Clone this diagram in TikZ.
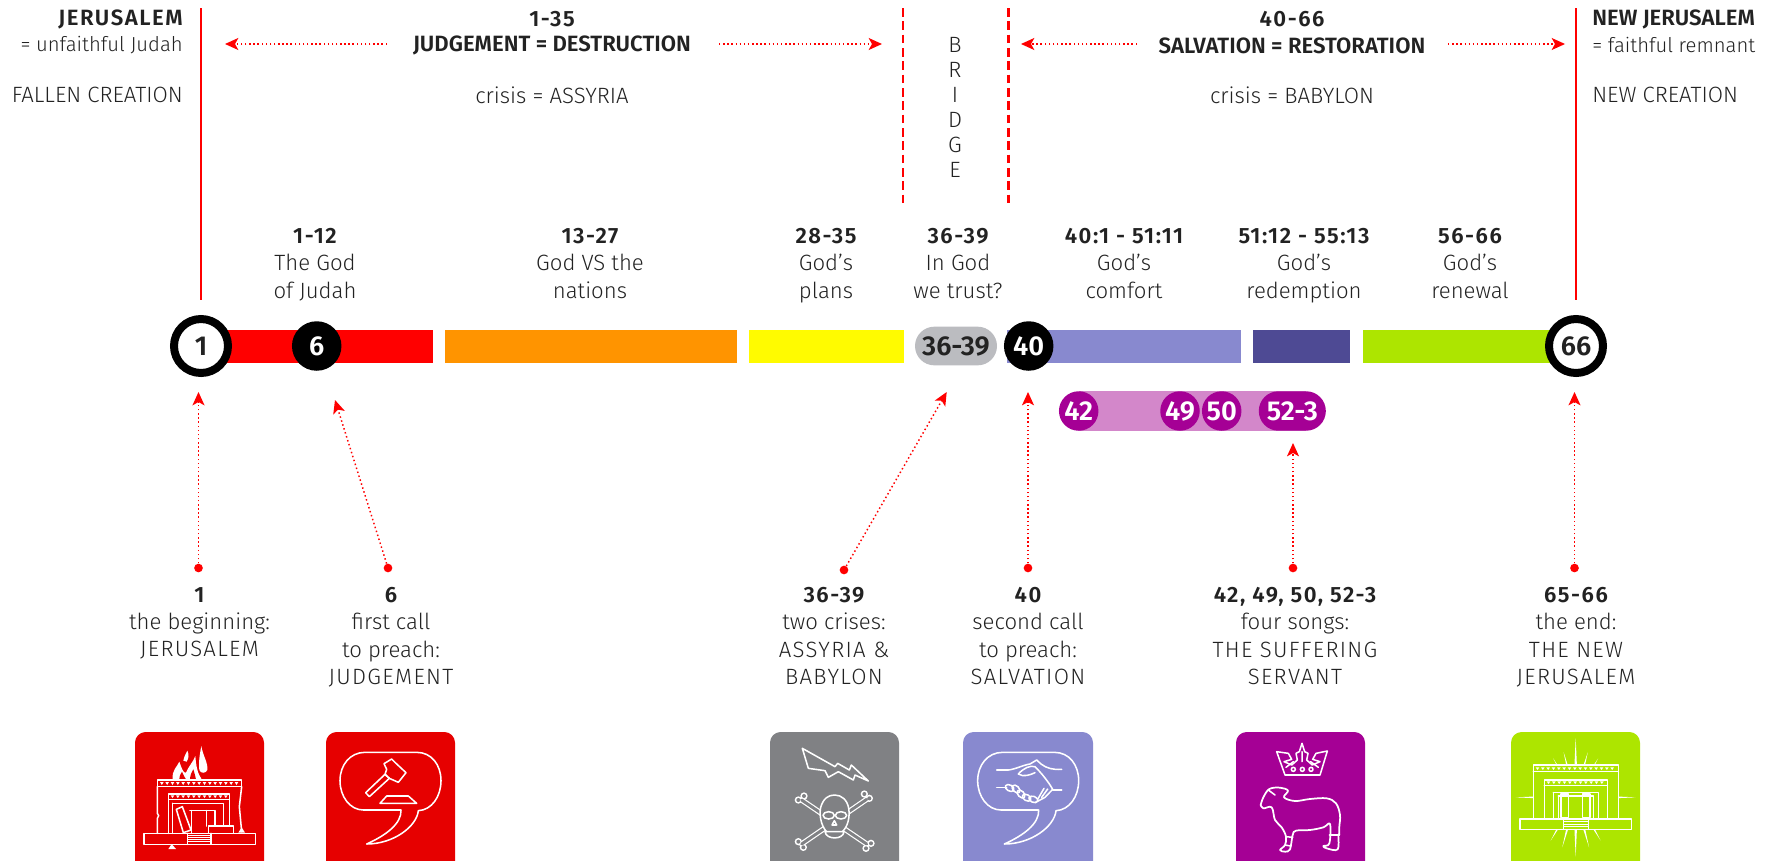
\documentclass[tikz,border=0pt]{standalone}
\usepackage{fontspec}
\setmainfont[BoldFont={Fira Sans SemiBold}]{Fira Sans Light}
\usetikzlibrary{arrows.meta}
\definecolor{txt}{HTML}{222222}
\definecolor{rd}{HTML}{FF0000}
\definecolor{icred}{HTML}{E60000}
\definecolor{org}{HTML}{FF9400}
\definecolor{yel}{HTML}{FFFB00}
\definecolor{peri}{HTML}{8889CF}
\definecolor{dkperi}{HTML}{4E4A94}
\definecolor{lime}{HTML}{ADE500}
\definecolor{purp}{HTML}{A50095}
\definecolor{pink}{HTML}{D387CA}
\definecolor{gry}{HTML}{BBBCC0}
\definecolor{icgry}{HTML}{808184}
\newcommand{\hd}[1]{{\bfseries\addfontfeature{LetterSpace=7}#1}}
\newcommand{\cp}[1]{{\addfontfeature{LetterSpace=6}#1}}
\tikzset{
  lbl/.style={inner sep=0pt,text=txt,font=\fontsize{16.6}{20.5}\selectfont,align=center},
  lblr/.style={lbl,align=right,anchor=east},
  lbll/.style={lbl,align=left,anchor=west},
  num/.style={inner sep=0pt,font=\fontsize{20.5}{22}\selectfont\bfseries,text=white},
  blackdisc/.style={circle,fill=black,minimum size=49.5pt*0.75,num},
  purpdisc/.style={circle,fill=purp,minimum size=39.5pt*0.75,num},
  ring/.style={circle,draw=black,line width=6pt,fill=white,minimum size=54pt*0.75,num,text=txt},
  dotnode/.style={circle,fill=rd,inner sep=0pt,minimum size=6.5pt},
  vrule/.style={draw=rd,line width=1.6pt},
  darrow/.style={draw=rd,line width=1.1pt,dash pattern=on 1.1pt off 2pt,-{Stealth[length=10pt,width=9pt,inset=2.5pt,rd,sep=0pt]}},
  bar/.style={draw=none},
  tile/.style={rounded corners=8pt,draw=none},
  iconline/.style={draw=white,line width=1.15pt,line join=round,line cap=round},
  izoom/.style={x=0.25pt,y=-0.25pt},
}
\newcommand{\bubbleshape}[1]{%
  \draw[iconline,shift={(#1,0)}] (795,97) -- (950,97) .. controls (995,97) and (1023,135) .. (1023,182)
    .. controls (1023,230) and (995,270) .. (955,272) .. controls (950,320) and (880,372) .. (800,372)
    .. controls (860,345) and (905,310) .. (903,270) -- (790,270) .. controls (750,270) and (720,230) .. (720,182)
    .. controls (720,135) and (750,97) .. (795,97) -- cycle;}
\begin{document}
\begin{tikzpicture}[x=0.75pt,y=-0.75pt]
\useasboundingbox (0,0) rectangle (1777,860);
\clip (0,0) rectangle (1777,860);
% vertical rules
\coordinate (ltop) at (201,8); \coordinate (lbot) at (201,300);
\coordinate (rtop) at (1576,8); \coordinate (rbot) at (1576,300);
\coordinate (btl) at (903,8); \coordinate (bbl) at (903,203);
\coordinate (btr) at (1008.5,8); \coordinate (bbr) at (1008.5,203);
\draw[vrule] (ltop) -- (lbot);
\draw[vrule] (rtop) -- (rbot);
\draw[vrule,dash pattern=on 6.5pt off 3.5pt] (btl) -- (bbl);
\draw[vrule,dash pattern=on 6.5pt off 3.5pt] (btr) -- (bbr);
% top texts
\node[lblr] (tj1) at (183,19) {\hd{JERUSALEM}};
\node[lblr,font=\fontsize{15.2}{20}\selectfont] (tj2) at (183,45) {= unfaithful Judah};
\node[lblr] (tj3) at (183,95) {FALLEN CREATION};
\node[lbl] (t135) at (552,19) {\hd{1-35}};
\node[lbl] (tjd) at (552,45.5) {\textbf{JUDGEMENT = DESTRUCTION}};
\node[lbl] (tas) at (552,95) {crisis = ASSYRIA};
\node[lbl] (t4066) at (1292,19) {\hd{40-66}};
\node[lbl] (tsr) at (1292,45.5) {\textbf{SALVATION = RESTORATION}};
\node[lbl] (tba) at (1292,95) {crisis = BABYLON};
\node[lbll] (tn1) at (1592,19) {\textbf{NEW JERUSALEM}};
\node[lbll,font=\fontsize{15.2}{20}\selectfont] (tn2) at (1592,45) {= faithful remnant};
\node[lbll] (tn3) at (1592,95) {NEW CREATION};
\node[lbl] (b1) at (955,45) {B};
\node[lbl] (b2) at (955,70) {R};
\node[lbl] (b3) at (955,95) {I};
\node[lbl] (b4) at (955,120) {D};
\node[lbl] (b5) at (955,145) {G};
\node[lbl] (b6) at (955,170) {E};
% top arrows
\coordinate (a1s) at (387,44); \coordinate (a1e) at (225,44);
\coordinate (a2s) at (719,44); \coordinate (a2e) at (882,44);
\coordinate (a3s) at (1137,44); \coordinate (a3e) at (1021,44);
\coordinate (a4s) at (1448,44); \coordinate (a4e) at (1565,44);
\draw[darrow] (a1s) -- (a1e);
\draw[darrow] (a2s) -- (a2e);
\draw[darrow] (a3s) -- (a3e);
\draw[darrow] (a4s) -- (a4e);
% column labels
\node[lbl,anchor=north] (c1) at (315,228) {\hd{1-12}\\The God\\of Judah};
\node[lbl,anchor=north] (c2) at (590,228) {\hd{13-27}\\God VS the\\nations};
\node[lbl,anchor=north] (c3) at (826,228) {\hd{28-35}\\God's\\plans};
\node[lbl,anchor=north] (c4) at (958,228) {\hd{36-39}\\In God\\we trust?};
\node[lbl,anchor=north] (c5) at (1124,228) {\hd{40:1 - 51:11}\\God's\\comfort};
\node[lbl,anchor=north] (c6) at (1304,228) {\hd{51:12 - 55:13}\\God's\\redemption};
\node[lbl,anchor=north] (c7) at (1470,228) {\hd{56-66}\\God's\\renewal};
% bars
\fill[rd,bar] (201,329.5) rectangle (433,362.5);
\fill[org,bar] (445,329.5) rectangle (737,362.5);
\fill[yel,bar] (749,329.5) rectangle (904,362.5);
\fill[peri,bar] (1007,329.5) rectangle (1241,362.5);
\fill[dkperi,bar] (1253,329.5) rectangle (1350,362.5);
\fill[lime,bar] (1363,329.5) rectangle (1576,362.5);
\node[fill=gry,rounded corners=14.5pt,minimum width=61.5pt,minimum height=29pt,inner sep=0pt,font=\fontsize{20.5}{22}\selectfont\bfseries,text=txt] (g3639) at (956,346) {36-39};
\fill[pink,bar] (1079,391) rectangle (1306,431);
\node[ring] (n1) at (201,346) {1};
\node[ring] (n66) at (1576,346) {66};
\node[blackdisc] (n6) at (316.7,346) {6};
\node[blackdisc] (n40) at (1028.7,346) {40};
\node[purpdisc] (p42) at (1078.7,411) {42};
\node[purpdisc] (p49) at (1180,411) {49};
\node[purpdisc] (p50) at (1221.7,411) {50};
\node[fill=purp,rounded corners=14.8pt,minimum width=50.3pt,minimum height=29.6pt,inner sep=0pt,num] (p52) at (1292.3,411) {52-3};
% dots and arrows
\node[dotnode] (d1) at (198.5,568) {};
\node[dotnode] (d6) at (388,568) {};
\node[dotnode] (d36) at (844,570) {};
\node[dotnode] (d40) at (1028,568) {};
\node[dotnode] (d42) at (1293,568) {};
\node[dotnode] (d65) at (1574.5,568) {};
\coordinate (e1) at (198.5,392);
\coordinate (e6) at (335,400);
\coordinate (e36) at (946.7,392);
\coordinate (e40) at (1028,392);
\coordinate (e42) at (1293,443);
\coordinate (e65) at (1574.5,392);
\draw[darrow] (d1) -- (e1);
\draw[darrow] (d6) -- (e6);
\draw[darrow] (d36) -- (e36);
\draw[darrow] (d40) -- (e40);
\draw[darrow] (d42) -- (e42);
\draw[darrow] (d65) -- (e65);
% bottom labels
\node[lbl,anchor=north] (l1) at (199.5,587) {\hd{1}\\the beginning:\\\cp{JERUSALEM}};
\node[lbl,anchor=north] (l6) at (391,587) {\hd{6}\\first call\\to preach:\\\cp{JUDGEMENT}};
\node[lbl,anchor=north] (l36) at (834,587) {\hd{36-39}\\two crises:\\\cp{ASSYRIA \&}\\\cp{BABYLON}};
\node[lbl,anchor=north] (l40) at (1028,587) {\hd{40}\\second call\\to preach:\\\cp{SALVATION}};
\node[lbl,anchor=north] (l42) at (1295,587) {\hd{42, 49, 50, 52-3}\\four songs:\\\cp{THE SUFFERING}\\\cp{SERVANT}};
\node[lbl,anchor=north] (l65) at (1576,587) {\hd{65-66}\\the end:\\\cp{THE NEW}\\\cp{JERUSALEM}};
% tiles
\fill[icred,tile] (135,732) rectangle (264,880);
\fill[icred,tile] (326,732) rectangle (455,880);
\fill[icgry,tile] (770,732) rectangle (899,880);
\fill[peri,tile] (963,732) rectangle (1093,880);
\fill[purp,tile] (1236,732) rectangle (1365,880);
\fill[lime,tile] (1511,732) rectangle (1640,880);
% icon 1: burning temple
\begin{scope}[shift={(100,720)},izoom]
\fill[white] (218,178) .. controls (215,150) and (232,140) .. (238,125) .. controls (245,145) and (250,160) .. (258,158) .. controls (265,140) and (280,125) .. (286,108) .. controls (288,135) and (292,160) .. (305,178) -- cycle;
\fill[icred] (238,178) .. controls (238,165) and (244,160) .. (246,155) .. controls (250,165) and (254,172) .. (258,178) -- cycle;
\fill[icred] (270,178) .. controls (270,165) and (276,155) .. (280,148) .. controls (284,160) and (286,170) .. (288,178) -- cycle;
\fill[white] (250,122) .. controls (252,110) and (258,100) .. (262,92) .. controls (268,105) and (266,115) .. (260,125) -- cycle;
\fill[white] (298,150) .. controls (295,125) and (300,100) .. (304,78) .. controls (308,105) and (325,130) .. (322,150) .. controls (318,160) and (302,162) .. (298,150) -- cycle;
\draw[iconline] (172,180) rectangle (425,200);
\foreach \zx in {0,...,14}{\fill[white] ({180+\zx*16},186) -- ++(11,0) -- ++(-5.5,9) -- cycle;}
\draw[iconline] (172,200) -- (172,280) -- (176,287) -- (172,295) -- (172,340);
\draw[iconline] (425,200) -- (418,260) -- (425,335);
\draw[iconline] (205,222) rectangle (388,238);
\foreach \zx in {0,...,10}{\fill[white] ({212+\zx*16},226) -- ++(11,0) -- ++(-5.5,8) -- cycle;}
\draw[iconline] (205,238) -- (205,340);
\draw[iconline] (388,238) -- (388,318);
\draw[iconline] (218,250) -- (370,250) -- (370,318);
\draw[iconline] (218,250) -- (218,340);
\draw[iconline] (270,272) -- (345,272) -- (345,318);
\draw[iconline] (275,272) -- (275,340);
\draw[iconline] (320,272) -- (320,318);
\draw[iconline] (229,268) -- (247,260) -- (273,330) -- (250,338) -- cycle;
\draw[iconline] (325,318) rectangle (400,340);
\draw[iconline] (132,340) rectangle (467,373);
\foreach \zy in {347,353,359,365}{\draw[white,line width=0.6pt] (262,\zy) -- (333,\zy);}
\draw[iconline] (262,340) -- (262,373) (333,340) -- (333,373);
\fill[white] (205,387) -- (215,372) -- (228,387) -- cycle;
\fill[white] (415,338) -- (425,322) -- (435,338) -- cycle;
\end{scope}
% icon 2: bubble with gavel
\begin{scope}[shift={(100,720)},izoom]
\bubbleshape{0}
\draw[iconline] (797,218) -- (855,163) -- (868,175) -- (808,230) -- cycle;
\draw[iconline] (852,131) -- (875,117) -- (888,130) -- (918,158) -- (895,187) -- (868,175) -- (855,163) -- (860,148) -- cycle;
\draw[iconline] (840,250) -- (860,228) -- (925,228) -- (950,250) -- cycle;
\end{scope}
% icon 3: lightning and skull
\begin{scope}[shift={(740,720)},izoom]
\draw[iconline] (187,85) -- (285,140) -- (293,130) -- (328,150) -- (334,135) -- (385,183) -- (345,165) -- (340,180) -- (295,155) -- (265,172) -- (255,152) -- (205,145) -- cycle;
\draw[white,line width=4pt,line cap=round] (185,240) -- (380,372) (380,238) -- (185,372);
\foreach \bx/\by in {175/240,192/228,393/370,378/385,388/235,373/222,175/365,190/382}{\fill[white] (\bx,\by) circle (11);}
\draw[icgry,line width=2.2pt,line cap=round] (185,240) -- (380,372) (380,238) -- (185,372);
\foreach \bx/\by in {175/240,192/228,393/370,378/385,388/235,373/222,175/365,190/382}{\fill[icgry] (\bx,\by) circle (6);}
\draw[iconline,fill=icgry] (262,338) .. controls (240,315) and (238,280) .. (242,262) .. controls (250,235) and (265,225) .. (284,225) .. controls (305,225) and (322,240) .. (326,265) .. controls (330,290) and (325,320) .. (304,338) -- cycle;
\draw[iconline,fill=icgry] (255,335) .. controls (258,360) and (310,360) .. (312,335) -- cycle;
\draw[iconline] (266,286) ellipse (17 and 11);
\draw[iconline] (303,286) ellipse (17 and 11);
\draw[iconline] (276,315) -- (283,302) -- (290,315) -- cycle;
\end{scope}
% icon 4: bubble with handshake
\begin{scope}[shift={(740,720)},izoom]
\bubbleshape{-7}
\draw[iconline] (770,150) -- (805,150) .. controls (825,148) and (850,135) .. (870,132) -- (890,120) -- (903,132) .. controls (920,145) and (940,150) .. (965,148);
\draw[iconline] (835,162) .. controls (850,145) and (870,135) .. (885,140) .. controls (905,160) and (925,185) .. (938,208) -- (915,232) -- (885,248);
\draw[iconline] (835,162) .. controls (850,172) and (870,165) .. (885,158);
\draw[iconline] (770,202) -- (800,202);
\draw[iconline] (938,210) -- (965,210);
\foreach \hx/\hy/\hr in {809/204/-30,828/207/-45,843/222/-45,860/233/-30,880/238/-20}{\draw[iconline,rotate around={\hr:(\hx,\hy)}] (\hx,\hy) ellipse (14 and 9);}
\draw[iconline] (893,238) -- (912,205) (905,232) -- (923,207);
\end{scope}
% icon 5: crown and lamb
\begin{scope}[shift={(1210,720)},izoom]
\draw[iconline] (225,165) -- (200,95) -- (235,100) -- (245,118) -- (222,125) -- (245,135) -- (262,120) -- (258,100) -- (268,95) -- (276,70) -- (284,95) -- (294,100) -- (290,120) -- (307,135) -- (330,125) -- (308,118) -- (318,100) -- (352,93) -- (330,165) -- cycle;
\draw[iconline] (228,142) -- (250,125) (325,142) -- (302,125) (276,95) -- (276,125);
\foreach \cx in {250,277,303}{\draw[iconline] (\cx,148) circle (6);}
\draw[iconline,line width=1.3pt] plot[smooth,tension=0.6] coordinates {(152,255) (160,232) (178,207) (210,203) (234,212) (222,232) (255,243) (300,237) (350,235) (378,250) (390,285) (388,320) (388,345)};
\draw[iconline,line width=1.3pt] plot[smooth,tension=0.6] coordinates {(152,255) (160,265) (185,262) (195,300) (215,322) (228,350) (225,375) (210,390) (225,395) (240,388) (248,345) (258,332) (300,330) (340,322) (360,312) (358,370) (340,378) (350,385) (383,388) (385,345) (388,345)};
\draw[iconline] (228,350) -- (248,352) (225,375) -- (242,378) (358,345) -- (385,345);
\draw[iconline] (175,210) -- (195,225);
\end{scope}
% icon 6: new temple with rays
\begin{scope}[shift={(1210,720)},izoom]
\foreach \ra/\rl in {90/178,270/178,0/180,180/180,60/135,120/135,30/120,150/120,240/150,300/150,210/125,330/125,75/140,105/140,255/155,285/155,45/120,135/120,225/120,315/120}{
  \fill[white] ({1097+8*cos(\ra+90)},{232-8*sin(\ra+90)}) -- ({1097+\rl*cos(\ra)},{232-\rl*sin(\ra)}) -- ({1097-8*cos(\ra+90)},{232+8*sin(\ra+90)}) -- cycle;}
\draw[iconline,fill=lime] (970,135) rectangle (1225,297);
\draw[iconline] (970,155) -- (1225,155);
\foreach \zx in {0,...,14}{\fill[white] ({977+\zx*16},142) -- ++(11,0) -- ++(-5.5,8) -- cycle;}
\draw[iconline] (1003,180) rectangle (1192,297);
\draw[iconline] (1003,196) -- (1192,196);
\foreach \zx in {0,...,10}{\fill[white] ({1010+\zx*16},184) -- ++(11,0) -- ++(-5.5,8) -- cycle;}
\draw[iconline] (1030,218) -- (1165,218) -- (1165,297) (1030,218) -- (1030,297);
\draw[iconline] (1045,228) -- (1150,228) -- (1150,297) (1045,228) -- (1045,297);
\draw[iconline] (1053,222) rectangle (1075,292);
\draw[iconline] (1118,222) rectangle (1140,292);
\draw[iconline,fill=lime] (930,297) rectangle (1265,328);
\draw[iconline] (1060,297) -- (1060,328) (1135,297) -- (1135,328);
\foreach \zy in {305,312,320}{\draw[white,line width=0.6pt] (1060,\zy) -- (1135,\zy);}
\end{scope}
\end{tikzpicture}
\end{document}
